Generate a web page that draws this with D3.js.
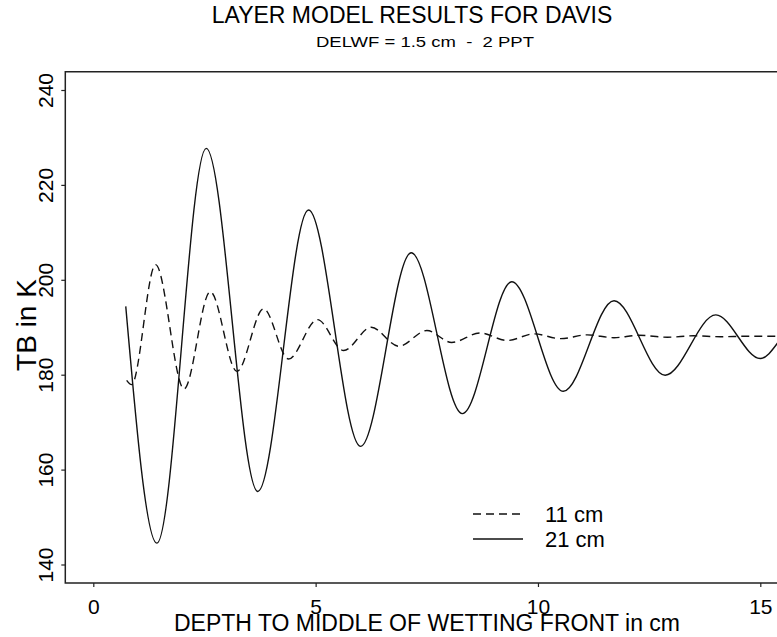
<!DOCTYPE html>
<html>
<head>
<meta charset="utf-8">
<script src="https://cdn.jsdelivr.net/npm/d3@7"></script>
<style>
  html, body { margin: 0; padding: 0; background: #fff; }
  svg { display: block; font-family: "Liberation Sans", Arial, Helvetica, sans-serif; }
  text { white-space: pre; }
</style>
</head>
<body>
<svg id="chart" width="777" height="637"></svg>
<script>
// ---- data ----
const depth11 = [0.75, 0.86, 1.40, 2.04, 2.63, 3.23, 3.83, 4.39, 5.04, 5.63, 6.25, 6.87, 7.50, 8.06, 8.70, 9.31, 9.91, 10.51, 11.11, 11.71, 12.27, 12.91, 13.50, 14.10, 14.70, 15.40];
const tb11    = [178.8, 177.9, 203.2, 177.0, 197.5, 180.7, 193.9, 183.3, 191.6, 185.1, 190.0, 186.0, 189.3, 186.8, 188.8, 187.2, 188.6, 187.6, 188.4, 187.8, 188.3, 187.9, 188.2, 188.0, 188.1, 188.1];
const depth21 = [0.73, 1.43, 2.54, 3.70, 4.84, 6.01, 7.15, 8.30, 9.41, 10.57, 11.71, 12.86, 14.00, 15.00, 15.39];
const tb21    = [194.4, 144.5, 227.7, 155.4, 214.7, 164.9, 205.7, 171.8, 199.6, 176.5, 195.6, 179.9, 192.6, 183.4, 186.7];
const xTicks = [0, 5, 10, 15];
const yTicks = [140, 160, 180, 200, 220, 240];
const seriesLabels = ["11 cm", "21 cm"];
const titleText = "LAYER MODEL RESULTS FOR DAVIS";
const subtitleText = "DELWF = 1.5 cm  -  2 PPT";
const xLabel = "DEPTH TO MIDDLE OF WETTING FRONT in cm";
const yLabel = "TB in K";

(function () {
const svg = d3.select("#chart");
const pLeft = 65.3, pTop = 71.7, pBottom = 583, pRight = 800;
const x = d3.scaleLinear().domain([0, 15]).range([93.3, 760.3]);
const y = d3.scaleLinear().domain([140, 240]).range([564.5, 90]);

svg.append("defs").append("clipPath").attr("id", "clip")
  .append("rect").attr("x", pLeft).attr("y", pTop).attr("width", pRight - pLeft).attr("height", pBottom - pTop);

// frame (top + left + bottom)
svg.append("path")
  .attr("d", `M${pRight},${pTop}H${pLeft}V${pBottom}H${pRight}`)
  .attr("fill", "none").attr("stroke", "#222").attr("stroke-width", 1.5);

// x axis
const xAxis = svg.append("g").attr("transform", `translate(0,${pBottom})`)
  .call(d3.axisBottom(x).tickValues(xTicks).tickFormat(d3.format("d")).tickSize(4).tickPadding(12));
xAxis.select(".domain").remove();
xAxis.selectAll("line").attr("stroke", "#222").attr("stroke-width", 1.2);
xAxis.selectAll("text").attr("font-size", 21).attr("fill", "#000")
  .attr("font-family", "Liberation Sans, Arial, sans-serif");

// y axis
const yAxis = svg.append("g").attr("transform", `translate(${pLeft},0)`)
  .call(d3.axisLeft(y).tickValues(yTicks).tickFormat(d3.format("d")).tickSize(4));
yAxis.select(".domain").remove();
yAxis.selectAll("line").attr("stroke", "#222").attr("stroke-width", 1.2);
yAxis.selectAll("text")
  .attr("font-size", 21).attr("fill", "#000")
  .attr("font-family", "Liberation Sans, Arial, sans-serif")
  .attr("x", null).attr("dy", null)
  .attr("text-anchor", "middle")
  .attr("transform", "translate(-12,0) rotate(-90)");

// lines
const line = d3.line().x(d => x(d[0])).y(d => y(d[1])).curve(d3.curveMonotoneX);
const plot = svg.append("g").attr("clip-path", "url(#clip)");
plot.append("path")
  .datum(depth11.map((d, i) => [d, tb11[i]]))
  .attr("d", line).attr("fill", "none").attr("stroke", "#111")
  .attr("stroke-width", 1.4).attr("stroke-dasharray", "8,5");
plot.append("path")
  .datum(depth21.map((d, i) => [d, tb21[i]]))
  .attr("d", line).attr("fill", "none").attr("stroke", "#111")
  .attr("stroke-width", 1.4);

// legend
const legend = svg.append("g");
const legY = [514, 539];
seriesLabels.forEach((lab, i) => {
  legend.append("line")
    .attr("x1", 473).attr("x2", 523).attr("y1", legY[i]).attr("y2", legY[i])
    .attr("stroke", "#111").attr("stroke-width", 1.3)
    .attr("stroke-dasharray", i === 0 ? "8,5" : null);
  legend.append("text").attr("x", 545).attr("y", legY[i] + 7.5)
    .attr("font-size", 22).text(lab);
});

// titles
svg.append("text").attr("x", 412).attr("y", 23).attr("text-anchor", "middle")
  .attr("font-size", 23).text(titleText);
svg.append("text").attr("x", 425).attr("y", 47).attr("text-anchor", "middle")
  .attr("font-size", 15).attr("textLength", 218).attr("lengthAdjust", "spacingAndGlyphs").text(subtitleText);
svg.append("text").attr("x", 427).attr("y", 631).attr("text-anchor", "middle")
  .attr("font-size", 23).text(xLabel);
svg.append("text").attr("text-anchor", "middle")
  .attr("transform", "translate(36,325) rotate(-90)")
  .attr("font-size", 28).text(yLabel);
})();
</script>
</body>
</html>
